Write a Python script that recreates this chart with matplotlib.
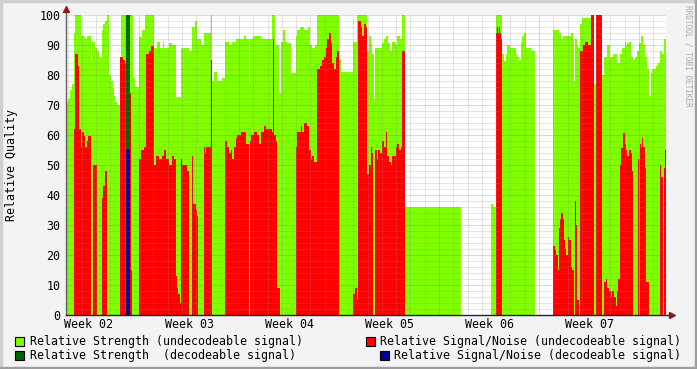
import numpy as np
import matplotlib
matplotlib.use("Agg")
from matplotlib import pyplot as plt
from matplotlib.patches import Rectangle

# one consolidated RRD step per sample (hours); graph starts 45.36 h after week 02 begins
STEP_H = 1.68
START_H = 45.36
N_SAMPLES = 600
NAN = float("nan")

week_labels = ["Week 02", "Week 03", "Week 04", "Week 05", "Week 06", "Week 07"]

# (sample index where value changes, value)
strength_undecodeable = [
    (0, 71), (2, 72), (4, 75), (6, 77), (8, 94), (9, 100), (15, 93), (19, 92), (21, 93),
    (25, 85), (26, 91), (29, 89), (31, 88), (33, 86), (36, 95), (37, 97), (39, 98), (41, 100),
    (43, 80), (45, 78), (47, 75.5), (48, 73), (49, 71), (51, 70), (55, 100), (67, 79), (69, 76),
    (73, 92.5), (76, 95), (79, 100), (88, 89), (91, 91), (94, 89), (97, 91), (98, 89),
    (103, 90.5), (106, 90), (110, 72.5), (115, 89), (123, 88), (126, 96), (129, 98), (131, 92),
    (135, 90), (138, 94), (145, 100), (146, 78), (148, 81), (151, 78), (156, 79), (159, 91),
    (163, 90), (166, 91), (170, 92), (178, 93), (180, 92), (183, 77), (184, 92), (187, 93),
    (195, 92), (206, 100), (209, 90), (213, 74), (215, 91), (217, 95), (219, 91), (221, 90.5),
    (225, 80.5), (230, 93), (231, 95), (234, 96), (238, 95), (242, 96), (244, 90), (246, 89),
    (249, 90), (251, 100), (273, 85), (275, 81), (287, 91), (291, 100), (301, 88), (303, 93),
    (305, 90.5), (306, 87), (308, 72), (309, 89), (316, 90.5), (318, 92), (320, 93), (322, 90.5),
    (324, 88), (326, 91), (330, 90), (331, 93), (334, 92), (336, 100), (339, 36), (395, NAN),
    (425, 37), (427, 36), (430, 100), (436, 87), (438, 84.5), (440, 87), (441, 90), (444, 89),
    (450, 87), (451, 86), (453, 85), (455, 91), (456, 93), (458, 94), (460, 89), (465, 88),
    (469, NAN), (487, 95), (493, 94), (495, 92), (497, 93), (505, 94), (507, 92), (508, 78),
    (509, 92), (511, 90), (512, 89), (514, 97), (516, 99), (526, 100), (528, 77), (530, 100),
    (536, 80), (538, 86), (541, 90), (544, 86), (547, 87), (551, 84), (554, 87), (556, 89),
    (559, 91), (560, 89.5), (561, 90.5), (563, 91), (565, 86), (567, 85), (569, 86), (571, 88),
    (573, 90.5), (575, 93), (577, 90), (579, 86), (581, 82), (583, 73), (585, 80.5), (586, 82),
    (590, 83), (592, 84), (594, 88), (596, 87), (598, 92),
]

snr_undecodeable = [
    (0, 0), (8, 62), (9, 87), (12, 83), (13, 62), (15, 56), (16, 61), (18, 59.5), (19, 56),
    (21, 58), (22, 59.5), (25, 0), (27, 50), (31, 0), (36, 39), (37, 43), (39, 48), (41, 0),
    (54, 86), (57, 85), (59, 84), (60, 68), (61, 0), (62, 48), (63, 36), (64, 74), (65, 15),
    (66, 0), (73, 52), (75, 55), (78, 56), (80, 87), (83, 88), (85, 89.5), (88, 50), (90, 53),
    (93, 52), (96, 53), (98, 55), (100, 52), (103, 50), (106, 53), (108, 52), (110, 13),
    (111, 9), (112, 7), (114, 4), (115, 52), (116, 50), (121, 48), (123, 0), (126, 53),
    (127, 37), (130, 35), (131, 33), (132, 0), (138, 56), (139, 54), (140, 56), (145, 85),
    (146, 0), (159, 58), (161, 56), (163, 54), (165, 55), (166, 52), (168, 56), (170, 59),
    (171, 60), (175, 61), (180, 57), (183, 0), (184, 58), (185, 60), (188, 61), (191, 60),
    (193, 57), (195, 61), (198, 63), (200, 62), (206, 61), (207, 92), (208, 60), (210, 58),
    (211, 9), (214, 0), (230, 56), (231, 61), (235, 63), (236, 61), (238, 64), (241, 63),
    (243, 55), (245, 52), (246, 53), (248, 51), (251, 82), (254, 83), (256, 85), (258, 86),
    (260, 89), (261, 92), (263, 94), (265, 90.5), (266, 84), (268, 82), (270, 86), (271, 88),
    (273, 0), (287, 7), (289, 9), (291, 5), (292, 98), (295, 96), (296, 93), (298, 97),
    (300, 96), (301, 47), (303, 50), (305, 56), (306, 54), (307, 0), (309, 55), (311, 52),
    (312, 55), (314, 54), (316, 58), (318, 56), (320, 61), (321, 53), (323, 51), (325, 50),
    (326, 53), (330, 56), (331, 57), (333, 55), (335, 56), (336, 88), (339, 0), (430, 94),
    (431, 96), (432, 94), (433, 96), (434, 94), (435, 92), (436, 0), (487, 23), (489, 21.5),
    (490, 20), (492, 15), (493, 29), (494, 32), (495, 34), (497, 32), (498, 25), (499, 22),
    (500, 20), (502, 26), (503, 25), (505, 16), (506, 15), (508, 0), (509, 38), (510, 30),
    (511, 5), (513, 0), (514, 88), (517, 90), (519, 91), (522, 90), (525, 100), (528, 0),
    (530, 100), (536, 0), (538, 11), (540, 12), (541, 9), (543, 8), (545, 6), (546, 8),
    (548, 6), (550, 3), (551, 8), (552, 12), (554, 50), (555, 55.5), (557, 60.5), (559, 57),
    (560, 55), (561, 53), (563, 55), (565, 54), (566, 48), (567, 0), (572, 52), (573, 0),
    (574, 57), (575, 56), (576, 59), (577, 56), (579, 49), (580, 11), (583, 0), (594, 50),
    (595, 46), (597, 0), (598, 49), (599, 55),
]

strength_decodeable = [(0, 0), (61, 100), (62, 0)]
snr_decodeable = [(0, 0), (61, 55), (62, 0)]


def expand(changes, n=N_SAMPLES):
    vals = np.zeros(n)
    ends = [c[0] for c in changes[1:]] + [n]
    for (s, v), e in zip(changes, ends):
        vals[s:e] = v
    return np.nan_to_num(vals)


edges = START_H + np.arange(N_SAMPLES + 1) * STEP_H

MONO = "DejaVu Sans Mono"
FS = 8.4
GRID_MINOR = (0.55, 0.55, 0.55, 0.45)
GRID_MAJOR = (0.75, 0.2, 0.2, 0.45)
DOT = (0, (1, 1))

fig = plt.figure(figsize=(6.97, 3.69), dpi=100)
fig.patch.set_facecolor("#F3F3F3")
ax = fig.add_axes([66 / 697, 54 / 369, 600 / 697, 300 / 369])
ax.set_facecolor("white")

# (data, colour, outline width) - the decodeable series are one step wide,
# so they get a thin outline to stay visible
series = [
    (strength_undecodeable, "#80FF00", 0),
    (snr_undecodeable, "#FF0000", 0),
    (strength_decodeable, "#006600", 0.8),
    (snr_decodeable, "#000099", 0.8),
]
for data, col, lw in series:
    vals = expand(data)
    nz = np.nonzero(vals)[0]
    i0, i1 = nz[0], nz[-1] + 1
    ax.stairs(vals[i0:i1], edges[i0:i1 + 1], fill=True, facecolor=col, edgecolor=col, lw=lw,
              antialiased=False, zorder=1)

ax.set_xlim(edges[0], edges[-1])
ax.set_ylim(0, 100)

# grid drawn on top of the areas, rrdtool style
for d in np.arange(48, 1100, 24):
    if edges[0] < d < edges[-1]:
        is_week = d % 168 == 0
        ax.axvline(d, color=GRID_MAJOR if is_week else GRID_MINOR, lw=0.72, ls=DOT, zorder=3)
for v in range(2, 101, 2):
    ax.axhline(v, color=GRID_MAJOR if v % 10 == 0 else GRID_MINOR, lw=0.72, ls=DOT, zorder=3)

ax.set_yticks(range(0, 101, 10))
ax.set_yticklabels([str(v) for v in range(0, 101, 10)], fontfamily=MONO, fontsize=FS)
ax.set_xticks([84 + 168 * k for k in range(len(week_labels))])
ax.set_xticklabels(week_labels, fontfamily=MONO, fontsize=FS)
ax.tick_params(axis="y", length=0, pad=4, colors="black")
ax.tick_params(axis="x", length=0, pad=2.5, colors="black")
fig.text(12 / 697, 1 - 165 / 369, "Relative Quality", rotation=90, ha="center", va="center",
         fontfamily=MONO, fontsize=FS)

for s in ax.spines.values():
    s.set_visible(False)
ax.plot([0, 0], [0, 1.02], transform=ax.transAxes, color="#606060", lw=1, clip_on=False, zorder=4)
ax.plot([0, 1.01], [0, 0], transform=ax.transAxes, color="#202040", lw=1, clip_on=False, zorder=4)
ax.plot([0], [1.02], transform=ax.transAxes, marker="^", ms=5, color="#8B1A1A", clip_on=False, zorder=5)
ax.plot([1.01], [0], transform=ax.transAxes, marker=">", ms=5, color="#8B1A1A", clip_on=False, zorder=5)

# legend
W, H = 697, 369
legend = [
    (15, 341, "#80FF00", "Relative Strength (undecodeable signal)", "left"),
    (366, 341, "#FF0000", "Relative Signal/Noise (undecodeable signal)", "right"),
    (15, 355, "#006600", "Relative Strength  (decodeable signal)", "left"),
    (380, 355, "#000099", "Relative Signal/Noise (decodeable signal)", "right"),
]
for x, y, col, label, side in legend:
    fig.patches.append(Rectangle((x / W, 1 - (y + 4.5) / H), 9 / W, 9 / H, transform=fig.transFigure,
                                 facecolor=col, edgecolor="black", lw=0.8))
    if side == "left":
        fig.text((x + 15) / W, 1 - y / H, label, ha="left", va="center", fontfamily=MONO, fontsize=FS)
    else:
        fig.text(681 / W, 1 - y / H, label, ha="right", va="center", fontfamily=MONO, fontsize=FS)

fig.text(688 / W, 1 - 5 / H, "RRDTOOL / TOBI OETIKER", rotation=270, ha="center", va="top",
         fontfamily=MONO, fontsize=5.6, color="#A8A8A8")

# 3d frame of the canvas
fig.patches.append(Rectangle((0, 1 - 2 / H), 1, 2 / H, transform=fig.transFigure, color="#CFCFCF"))
fig.patches.append(Rectangle((0, 0), 2 / W, 1, transform=fig.transFigure, color="#CFCFCF"))
fig.patches.append(Rectangle((0, 0), 1, 2 / H, transform=fig.transFigure, color="#9E9E9E"))
fig.patches.append(Rectangle((1 - 2 / W, 0), 2 / W, 1, transform=fig.transFigure, color="#9E9E9E"))

plt.savefig("out.png", dpi=100, facecolor=fig.get_facecolor())
